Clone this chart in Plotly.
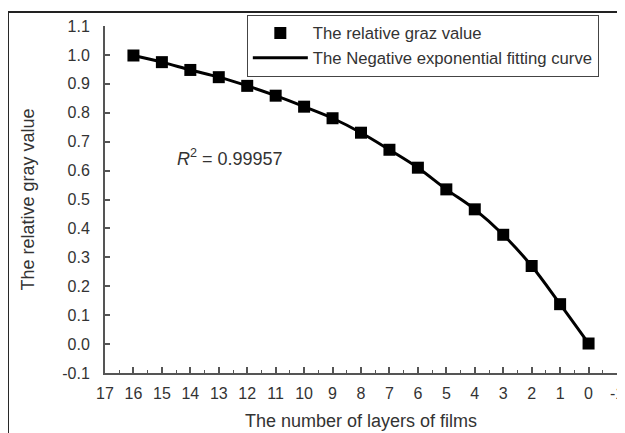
import plotly.graph_objects as go

# number of layers of films and the measured relative gray value
layers = [16, 15, 14, 13, 12, 11, 10, 9, 8, 7, 6, 5, 4, 3, 2, 1, 0]
relative_gray = [0.998, 0.975, 0.948, 0.923, 0.893, 0.859, 0.821, 0.781, 0.731,
                 0.672, 0.610, 0.535, 0.466, 0.378, 0.270, 0.138, 0.002]

x_ticks = list(range(17, -2, -1))
y_ticks = [round(-0.1 + 0.1 * i, 1) for i in range(13)]
y_labels = [f"{v:.1f}" for v in y_ticks]

font_col = "#333333"
axis_col = "#555555"

fig = go.Figure()

fig.add_trace(go.Scatter(
    x=layers, y=relative_gray, mode="markers",
    name="The relative graz value",
    marker=dict(symbol="square", size=12, color="black"),
))
fig.add_trace(go.Scatter(
    x=layers, y=relative_gray, mode="lines", line_shape="spline",
    name="The Negative exponential fitting curve",
    line=dict(color="black", width=3),
))

# the page body has an 8px margin, so the figure is a bit smaller than the window
fig.update_layout(
    width=617, height=425,
    margin=dict(l=97, r=8, t=17, b=60),
    paper_bgcolor="white", plot_bgcolor="white",
    font=dict(family="Liberation Sans, Arial, sans-serif", size=16, color=font_col),
    showlegend=True,
    legend=dict(
        x=0.277, y=1.03, xanchor="left", yanchor="top",
        bgcolor="white", bordercolor="#444444", borderwidth=1,
        font=dict(size=16.7, color=font_col), tracegroupgap=0,
        itemwidth=55,
    ),
    xaxis=dict(
        range=[17, -1], tickvals=x_ticks, ticktext=[str(v) for v in x_ticks],
        automargin=False,
        showgrid=False, zeroline=False,
        showline=True, linecolor=axis_col, linewidth=2,
        ticks="inside", ticklen=6, tickwidth=1.5, tickcolor=axis_col,
        minor=dict(dtick=0.5, ticks="inside", ticklen=3, tickwidth=1, tickcolor=axis_col),
        title=dict(text="The number of layers of films", font=dict(size=18), standoff=13),
        tickfont=dict(size=16), ticklabelstandoff=5,
    ),
    yaxis=dict(
        range=[-0.1, 1.1], tickvals=y_ticks, ticktext=y_labels,
        automargin=False,
        showgrid=False, zeroline=False,
        showline=True, linecolor=axis_col, linewidth=2,
        ticks="inside", ticklen=5, tickwidth=1.5, tickcolor=axis_col,
        title=dict(text="The relative gray value", font=dict(size=18), standoff=23),
        tickfont=dict(size=16), ticklabelstandoff=10,
    ),
)

fig.add_annotation(
    x=12.6, y=0.645, xref="x", yref="y", showarrow=False,
    text="<i>R</i><sup>2</sup> = 0.99957", font=dict(size=18, color=font_col),
    xanchor="center",
)

# outer frame, cut off at right and bottom
fig.add_shape(type="line", xref="paper", yref="paper",
              x0=-0.1895, x1=-0.1895, y0=-0.2, y1=1.04,
              line=dict(color="#222222", width=2))
fig.add_shape(type="line", xref="paper", yref="paper",
              x0=-0.1895, x1=1.02, y0=1.04, y1=1.04,
              line=dict(color="#222222", width=2))

fig.write_html("out.html")
